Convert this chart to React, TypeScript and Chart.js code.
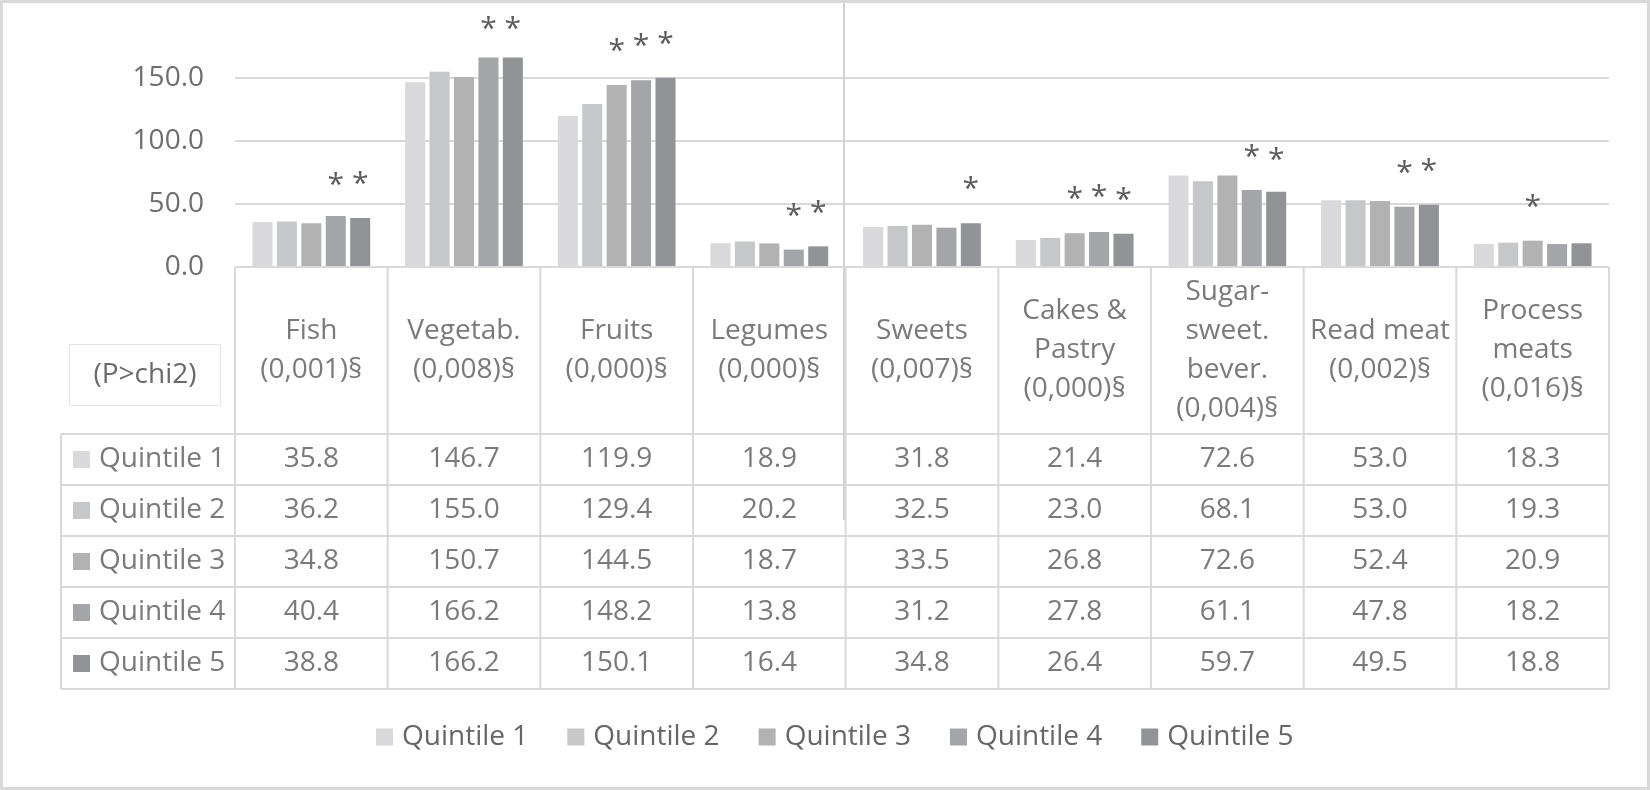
import React, { useEffect, useRef } from "react";
import { Chart, registerables } from "chart.js";

Chart.register(...registerables);

// Food groups (wrapped as they appear in the table header) and their chi2 p-values
const categoryLines: string[][] = [
  ["Fish"],
  ["Vegetab."],
  ["Fruits"],
  ["Legumes"],
  ["Sweets"],
  ["Cakes &", "Pastry"],
  ["Sugar-", "sweet.", "bever."],
  ["Read meat"],
  ["Process", "meats"],
];
const pValues = ["0,001", "0,008", "0,000", "0,000", "0,007", "0,000", "0,004", "0,002", "0,016"];

const quintileNames = ["Quintile 1", "Quintile 2", "Quintile 3", "Quintile 4", "Quintile 5"];
const quintile1 = [35.8, 146.7, 119.9, 18.9, 31.8, 21.4, 72.6, 53.0, 18.3];
const quintile2 = [36.2, 155.0, 129.4, 20.2, 32.5, 23.0, 68.1, 53.0, 19.3];
const quintile3 = [34.8, 150.7, 144.5, 18.7, 33.5, 26.8, 72.6, 52.4, 20.9];
const quintile4 = [40.4, 166.2, 148.2, 13.8, 31.2, 27.8, 61.1, 47.8, 18.2];
const quintile5 = [38.8, 166.2, 150.1, 16.4, 34.8, 26.4, 59.7, 49.5, 18.8];
const quintileColors = ["#d9d9db", "#c6c7c9", "#b2b2b3", "#a4a5a8", "#929396"];

const yTicks = [0, 50, 100, 150];

// Significance asterisks: category index, quintile (1-5), height on the value axis
const sigCategory = [0, 0, 1, 1, 2, 2, 2, 3, 3, 4, 5, 5, 5, 6, 6, 7, 7, 8];
const sigQuintile = [4, 5, 4, 5, 3, 4, 5, 4, 5, 5, 3, 4, 5, 4, 5, 4, 5, 3];
const sigLevel = [70, 71, 194, 194, 176, 180, 182, 45, 48, 67, 59, 60, 58, 92, 90, 79, 81, 52];

const FONT = "'Open Sans', 'Noto Sans', sans-serif";
const TEXT_GREY = "#7a7a7a";
const LINE_GREY = "#d9d9d9";

const series = [quintile1, quintile2, quintile3, quintile4, quintile5];

const backgroundPlugin = {
  id: "pageBackground",
  beforeDraw(chart: any) {
    const { ctx, width, height } = chart;
    ctx.save();
    ctx.fillStyle = "#ffffff";
    ctx.fillRect(0, 0, width, height);
    ctx.restore();
  },
};

const tablePlugin = {
  id: "dataTable",
  afterDraw(chart: any) {
    const { ctx, chartArea: area, width, height } = chart;
    const xScale = chart.scales.x;
    const yScale = chart.scales.y;
    const n = categoryLines.length;
    const colW = (area.right - area.left) / n;
    const top = area.bottom;
    const headerBottom = 434;
    const rowH = 51;
    const tableBottom = headerBottom + rowH * series.length;
    const labelLeft = 61;

    ctx.save();
    const line = (x1: number, y1: number, x2: number, y2: number) => {
      ctx.beginPath();
      ctx.moveTo(x1, y1);
      ctx.lineTo(x2, y2);
      ctx.stroke();
    };

    // grid of the table
    ctx.strokeStyle = LINE_GREY;
    ctx.lineWidth = 2;
    line(area.left, top, area.right, top);
    for (let r = 0; r <= series.length; r++) {
      const y = headerBottom + r * rowH;
      line(labelLeft, y, area.right, y);
    }
    for (let c = 0; c <= n; c++) {
      const x = area.left + c * colW;
      line(x, top, x, tableBottom);
    }
    line(labelLeft, headerBottom, labelLeft, tableBottom);

    // separator between the two food blocks
    ctx.strokeStyle = "#d2d2d2";
    line(844, 3, 844, 520);

    // header cells
    ctx.font = `28px ${FONT}`;
    ctx.fillStyle = TEXT_GREY;
    ctx.textAlign = "center";
    ctx.textBaseline = "middle";
    const headMid = (top + headerBottom) / 2;
    const lh = 39;
    for (let i = 0; i < n; i++) {
      const lines = [...categoryLines[i], `(${pValues[i]})§`];
      const cx = xScale.getPixelForValue(i);
      const y0 = headMid - ((lines.length - 1) * lh) / 2;
      lines.forEach((t, k) => ctx.fillText(t, cx, y0 + k * lh));
    }

    // (P>chi2) box
    ctx.strokeStyle = "#e6e6e6";
    ctx.lineWidth = 1;
    ctx.strokeRect(69.5, 344.5, 151, 61);
    ctx.fillStyle = "#6a6a6a";
    ctx.fillText("(P>chi2)", 145, 375);

    // rows
    for (let r = 0; r < series.length; r++) {
      const cy = headerBottom + r * rowH + rowH / 2;
      ctx.fillStyle = quintileColors[r];
      ctx.fillRect(73, cy - 8.5, 17, 17);
      ctx.fillStyle = TEXT_GREY;
      ctx.textAlign = "left";
      ctx.fillText(quintileNames[r], 99, cy);
      ctx.textAlign = "center";
      for (let i = 0; i < n; i++) {
        ctx.fillText(series[r][i].toFixed(1), xScale.getPixelForValue(i), cy);
      }
    }

    // significance asterisks over the bars
    ctx.font = `30px ${FONT}`;
    ctx.fillStyle = "#5a5a5a";
    ctx.textBaseline = "alphabetic";
    const m = ctx.measureText("*");
    const shift = (m.actualBoundingBoxAscent - m.actualBoundingBoxDescent) / 2;
    for (let k = 0; k < sigCategory.length; k++) {
      const bar = chart.getDatasetMeta(sigQuintile[k] - 1).data[sigCategory[k]];
      const y = yScale.getPixelForValue(sigLevel[k]);
      ctx.fillText("*", bar.x, y + shift);
    }

    // legend
    ctx.font = `28px ${FONT}`;
    ctx.textBaseline = "middle";
    ctx.textAlign = "left";
    const ly = 737;
    let lx = 376;
    for (let r = 0; r < quintileNames.length; r++) {
      ctx.fillStyle = quintileColors[r];
      ctx.fillRect(lx, ly - 8.5, 17, 17);
      ctx.fillStyle = "#666666";
      ctx.fillText(quintileNames[r], lx + 26, ly);
      lx += 26 + ctx.measureText(quintileNames[r]).width + 39;
    }

    // outer frame
    ctx.strokeStyle = LINE_GREY;
    ctx.lineWidth = 3;
    ctx.strokeRect(1.5, 1.5, width - 3, height - 3);
    ctx.restore();
  },
};

export default function App() {
  const canvasRef = useRef<HTMLCanvasElement | null>(null);

  useEffect(() => {
    document.body.style.margin = "0";
    const canvas = canvasRef.current;
    if (!canvas) return;
    const chart = new Chart(canvas, {
      type: "bar",
      data: {
        labels: categoryLines.map((l) => l.join(" ")),
        datasets: series.map((values, i) => ({
          label: quintileNames[i],
          data: values,
          backgroundColor: quintileColors[i],
          borderWidth: 0,
          barPercentage: 0.82,
          categoryPercentage: 0.8,
        })),
      },
      options: {
        responsive: false,
        animation: false,
        layout: { padding: { top: 15, right: 41, left: 0, bottom: 0 } },
        plugins: {
          legend: { display: false },
          tooltip: { enabled: false },
        },
        scales: {
          x: {
            grid: { display: false },
            border: { display: false },
            ticks: { display: false },
            afterFit(scale: any) {
              scale.height = 523;
              scale.paddingLeft = 0;
              scale.paddingRight = 0;
            },
          },
          y: {
            min: 0,
            max: 200,
            border: { display: false },
            grid: { color: LINE_GREY, lineWidth: 2, drawTicks: false },
            ticks: {
              stepSize: 50,
              padding: 31,
              color: "#6e6e6e",
              font: { family: FONT, size: 28 },
              callback: (v: any) => Number(v).toFixed(1),
            },
            afterBuildTicks(scale: any) {
              scale.ticks = yTicks.map((value) => ({ value }));
            },
            afterFit(scale: any) {
              scale.width = 235;
              scale.paddingTop = 0;
              scale.paddingBottom = 0;
            },
          },
        },
      },
      plugins: [backgroundPlugin, tablePlugin],
    });
    return () => chart.destroy();
  }, []);

  return (
    <div style={{ width: 1650, height: 790 }}>
      <canvas ref={canvasRef} width={1650} height={790} style={{ display: "block" }} />
    </div>
  );
}
